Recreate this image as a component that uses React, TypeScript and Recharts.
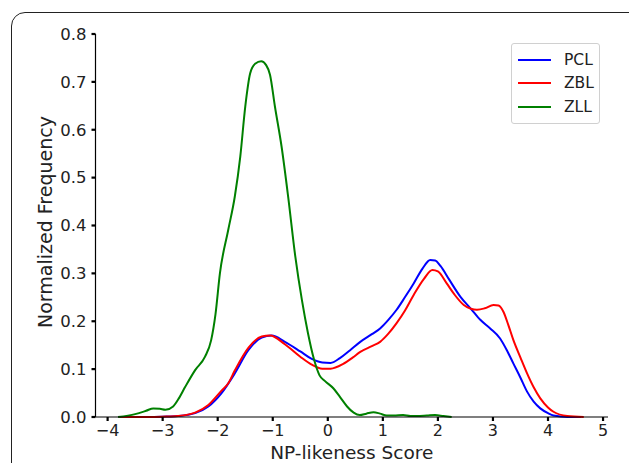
import React from 'react';
import { LineChart, Line, XAxis, YAxis, Legend } from 'recharts';

const xTicks = [-4, -3, -2, -1, 0, 1, 2, 3, 4, 5];
const yTicks = [0, 0.1, 0.2, 0.3, 0.4, 0.5, 0.6, 0.7, 0.8];

const pclX = [-3.8, -3.56, -3.2, -2.9, -2.72, -2.41, -2.17, -1.93, -1.69, -1.44, -1.2, -1.02, -0.78, -0.5, -0.3, -0.1, 0.05, 0.22, 0.4, 0.59, 0.8, 0.95, 1.1, 1.25, 1.4, 1.56, 1.72, 1.86, 1.95, 2.05, 2.2, 2.41, 2.6, 2.77, 2.95, 3.13, 3.25, 3.37, 3.5, 3.62, 3.74, 3.86, 4.0, 4.1, 4.35, 4.6];
const pclY = [0, 0, 0, 0.001, 0.002, 0.008, 0.022, 0.05, 0.091, 0.14, 0.166, 0.17, 0.157, 0.137, 0.122, 0.114, 0.113, 0.123, 0.139, 0.157, 0.173, 0.185, 0.203, 0.224, 0.25, 0.279, 0.31, 0.328, 0.327, 0.315, 0.288, 0.251, 0.226, 0.203, 0.185, 0.164, 0.14, 0.112, 0.082, 0.053, 0.032, 0.018, 0.008, 0.003, 0, 0];

const zblX = [-3.8, -3.56, -3.2, -2.9, -2.72, -2.41, -2.17, -1.93, -1.81, -1.69, -1.44, -1.2, -1.05, -0.78, -0.5, -0.3, -0.1, 0.05, 0.28, 0.45, 0.59, 0.8, 0.95, 1.1, 1.25, 1.4, 1.56, 1.75, 1.9, 2.0, 2.16, 2.3, 2.47, 2.6, 2.71, 2.85, 3.01, 3.1, 3.19, 3.28, 3.37, 3.5, 3.62, 3.74, 3.86, 4.0, 4.1, 4.35, 4.65];
const zblY = [0, 0, 0, 0.001, 0.002, 0.009, 0.025, 0.055, 0.07, 0.097, 0.145, 0.168, 0.17, 0.152, 0.126, 0.11, 0.101, 0.101, 0.111, 0.124, 0.136, 0.148, 0.157, 0.174, 0.196, 0.222, 0.255, 0.289, 0.307, 0.304, 0.279, 0.256, 0.234, 0.226, 0.224, 0.227, 0.234, 0.233, 0.22, 0.192, 0.161, 0.124, 0.091, 0.062, 0.039, 0.02, 0.011, 0.002, 0];

const zllX = [-3.81, -3.5, -3.3, -3.17, -3.05, -2.95, -2.81, -2.7, -2.59, -2.41, -2.23, -2.12, -2.04, -1.96, -1.81, -1.69, -1.59, -1.5, -1.41, -1.32, -1.21, -1.12, -1.05, -0.96, -0.84, -0.72, -0.59, -0.47, -0.36, -0.25, -0.15, -0.05, 0.1, 0.22, 0.35, 0.47, 0.58, 0.7, 0.83, 0.95, 1.07, 1.2, 1.37, 1.5, 1.62, 1.8, 1.95, 2.1, 2.25];
const zllY = [0, 0.006, 0.013, 0.018, 0.017, 0.015, 0.022, 0.04, 0.063, 0.098, 0.126, 0.16, 0.215, 0.3, 0.39, 0.46, 0.544, 0.648, 0.718, 0.738, 0.743, 0.735, 0.715, 0.648, 0.565, 0.46, 0.335, 0.244, 0.175, 0.12, 0.087, 0.075, 0.06, 0.042, 0.022, 0.009, 0.004, 0.007, 0.01, 0.007, 0.003, 0.003, 0.004, 0.002, 0.002, 0.003, 0.004, 0.002, 0];

const seriesNames = ['PCL', 'ZBL', 'ZLL'];
const seriesColors = ['#0000ff', '#ff0000', '#008000'];

const toPoints = (xs: number[], ys: number[]) => xs.map((x, i) => ({ x, y: ys[i] }));
const pclData = toPoints(pclX, pclY);
const zblData = toPoints(zblX, zblY);
const zllData = toPoints(zllX, zllY);

const FONT = '"DejaVu Sans", sans-serif';

const renderLegend = () => (
  <div
    style={{
      border: '1px solid #d0d0d0',
      borderRadius: 3,
      background: '#fff',
      padding: '4px 0 4px 6px',
      fontFamily: FONT,
      fontSize: 15.5,
      color: '#222',
      boxSizing: 'border-box',
      width: 89,
    }}
  >
    {seriesNames.map((n, i) => (
      <div key={n} style={{ display: 'flex', alignItems: 'center', height: 23.6 }}>
        <div style={{ width: 33, height: 2, background: seriesColors[i], marginRight: 13 }} />
        <span>{n}</span>
      </div>
    ))}
  </div>
);

export default function App() {
  return (
    <div style={{ position: 'absolute', left: 0, top: 0, width: 629, height: 463, overflow: 'hidden', background: '#fff' }}>
      <div
        style={{
          position: 'absolute',
          left: 11,
          top: 12,
          width: 640,
          height: 480,
          border: '1.3px solid #222',
          borderRadius: 14,
          boxSizing: 'border-box',
        }}
      />
      <div style={{ position: 'absolute', left: 0, top: 0 }}>
        <LineChart width={629} height={463} margin={{ top: 34, right: 21, bottom: 0, left: 0 }}>
          <XAxis
            type="number"
            dataKey="x"
            domain={[-4.22, 5.09]}
            ticks={xTicks}
            allowDuplicatedCategory={false}
            height={46}
            axisLine={{ stroke: '#000', strokeWidth: 1.2 }}
            tickLine={{ stroke: '#000', strokeWidth: 2.2 }}
            tickSize={4}
            tickMargin={4}
            tick={{ fill: '#222', fontSize: 16, fontFamily: FONT }}
            tickFormatter={(v: number) => (v < 0 ? '\u2212' + Math.abs(v) : String(v))}
            label={{
              content: (props: any) => {
                const vb = props.viewBox || {};
                return (
                  <text x={vb.x + vb.width / 2} y={458.5} textAnchor="middle" fill="#222" fontSize={18.5} fontFamily={FONT}>
                    NP-likeness Score
                  </text>
                );
              },
            }}
          />
          <YAxis
            type="number"
            dataKey="y"
            domain={[0, 0.8]}
            ticks={yTicks}
            width={95.5}
            axisLine={{ stroke: '#000', strokeWidth: 1.2 }}
            tickLine={{ stroke: '#000', strokeWidth: 2.2 }}
            tickSize={4}
            tickMargin={5}
            tick={{ fill: '#222', fontSize: 16.5, fontFamily: FONT }}
            tickFormatter={(v: number) => v.toFixed(1)}
            label={{
              content: () => {
                const cx = 52;
                const cy = 222;
                return (
                  <text x={cx} y={cy} transform={`rotate(-90, ${cx}, ${cy})`} textAnchor="middle" fill="#222" fontSize={19} fontFamily={FONT}>
                    Normalized Frequency
                  </text>
                );
              },
            }}
          />
          <Legend
            layout="vertical"
            align="center"
            verticalAlign="middle"
            content={renderLegend}
            wrapperStyle={{ top: 43, left: 511, width: 89 }}
          />
          <Line data={pclData} dataKey="y" name="PCL" type="monotone" stroke={seriesColors[0]} strokeWidth={2} dot={false} isAnimationActive={false} />
          <Line data={zblData} dataKey="y" name="ZBL" type="monotone" stroke={seriesColors[1]} strokeWidth={2} dot={false} isAnimationActive={false} />
          <Line data={zllData} dataKey="y" name="ZLL" type="monotone" stroke={seriesColors[2]} strokeWidth={2} dot={false} isAnimationActive={false} />
        </LineChart>
      </div>
    </div>
  );
}
